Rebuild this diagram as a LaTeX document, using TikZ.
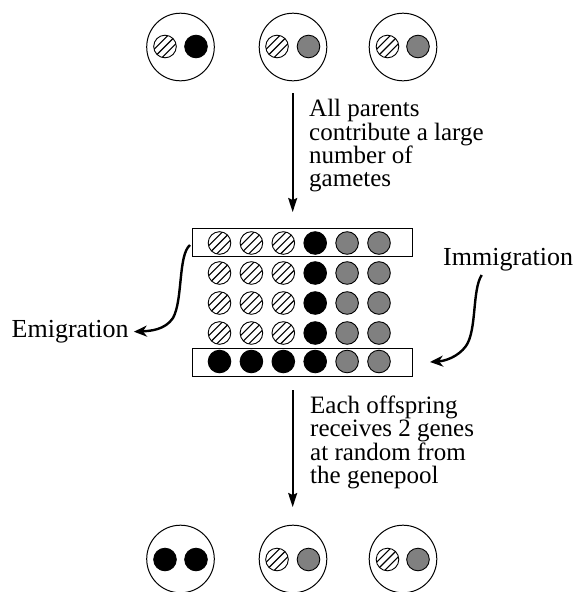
\documentclass[tikz,border=0pt]{standalone}
\usepackage{fontspec}
\setmainfont{Liberation Serif}
\usetikzlibrary{arrows.meta}
\definecolor{genegray}{RGB}{128,128,128}
\tikzset{
  parent/.style={draw=black, line width=1pt},
  gene/.style={draw=black, line width=0.9pt},
  blackgene/.style={gene, fill=black},
  graygene/.style={gene, fill=genegray},
  hatchline/.style={line width=1.1pt},
  poolbox/.style={draw=black, line width=1pt},
  flow/.style={line width=2pt, -{Stealth[length=14pt,width=9pt,inset=2pt]}},
  migrate/.style={line width=2.4pt, -{Stealth[length=13pt,width=11pt,inset=4pt]}},
  label/.style={font=\fontsize{25}{23.4}\selectfont, inner sep=0pt, align=left},
  sidelabel/.style={font=\fontsize{26}{23.4}\selectfont, inner sep=0pt},
}
\newcommand\genR{11.3}
\newcommand\hgene[2]{%
  \begin{scope}
    \clip (#1,#2) circle (\genR);
    \foreach \k in {-4,...,4}
      \draw[hatchline] ({#1+\k*4.1-16},{#2+\k*4.1+16}) -- ({#1+\k*4.1+16},{#2+\k*4.1-16});
  \end{scope}
  \draw[gene] (#1,#2) circle (\genR);}
\newcommand\bgene[2]{\draw[blackgene] (#1,#2) circle (\genR);}
\newcommand\ggene[2]{\draw[graygene] (#1,#2) circle (\genR);}
\begin{document}
\begin{tikzpicture}[x=1pt,y=-1pt]
\useasboundingbox (0,0) rectangle (576,592);
% parents
\draw[parent] (180.5,47) circle (33.8);
\hgene{165}{46.5}\bgene{196}{46.5}
\draw[parent] (293,47) circle (33.8);
\hgene{277}{46.5}\ggene{308.5}{46.5}
\draw[parent] (403,47) circle (33.8);
\hgene{387.5}{46.5}\ggene{418}{46.5}
% arrow 1
\coordinate (a1s) at (292.7,93);
\coordinate (a1e) at (292.7,212);
\draw[flow] (a1s) -- (a1e);
\node[label, anchor=base west] (t1) at (309,186.9) {All parents\\contribute a large\\number of\\gametes};
% gene pool boxes
\draw[poolbox] (192,228.5) rectangle (412,256.5);
\draw[poolbox] (192,348) rectangle (412,376);
\foreach \y in {243,273,303,333}{
  \hgene{219.5}{\y}\hgene{251.4}{\y}\hgene{283.3}{\y}
  \bgene{315.2}{\y}\ggene{347.1}{\y}\ggene{379}{\y}
}
\bgene{219.5}{361.5}\bgene{251.4}{361.5}\bgene{283.3}{361.5}
\bgene{315.2}{361.5}\ggene{347.1}{361.5}\ggene{379}{361.5}
% migration
\node[sidelabel, anchor=base west] (emi) at (11.5,337.5) {Emigration};
\node[sidelabel, anchor=base west] (imm) at (443,265) {Immigration};
\coordinate (es) at (190,245);
\coordinate (is) at (481.7,275);
\draw[migrate] (es) .. controls (178,255) and (183,300) .. (173,318) .. controls (165,330) and (150,331) .. ([xshift=5pt]emi.east);
\draw[migrate] (is) .. controls (472,290) and (477,330) .. (466,346) .. controls (458,357) and (445,361) .. (430,362);
% arrow 2
\coordinate (a2s) at (292.7,390);
\coordinate (a2e) at (292.7,507);
\draw[flow] (a2s) -- (a2e);
\node[label, anchor=base west] (t2) at (310,483.5) {Each offspring\\receives 2 genes\\at random from\\the genepool};
% offspring
\draw[parent] (180.5,559) circle (33.8);
\bgene{165}{559.5}\bgene{196}{559.5}
\draw[parent] (293,559) circle (33.8);
\hgene{277}{559.5}\ggene{308.5}{559.5}
\draw[parent] (403,559) circle (33.8);
\hgene{387.5}{559.5}\ggene{418}{559.5}
\end{tikzpicture}
\end{document}
